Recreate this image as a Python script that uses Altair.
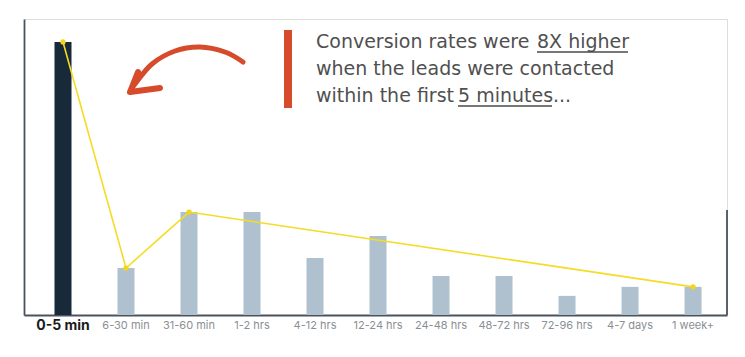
import altair as alt
import pandas as pd

# ---- data ----
categories = ["0-5 min", "6-30 min", "31-60 min", "1-2 hrs", "4-12 hrs", "12-24 hrs",
              "24-48 hrs", "48-72 hrs", "72-96 hrs", "4-7 days", "1 week+"]
values = [100, 17.2, 37.7, 37.7, 20.9, 28.9, 14.3, 14.3, 7.0, 10.3, 10.3]
highlight = [True] + [False] * 10
trend_categories = ["0-5 min", "6-30 min", "31-60 min", "1 week+"]
trend_values = [100, 17.2, 37.7, 10.3]

note_lines = ["Conversion rates were ", "when the leads were contacted", "within the first "]
note_underlined = ["8X higher", "5 minutes"]
note_tail = ["..."]

# annotation arrow path (plot pixels)
arrow_x = [219, 201, 176, 151, 128, 111, 106]
arrow_y = [43, 33, 28, 32, 45, 65, 73]
head_x = [114, 106, 136]
head_y = [53, 73, 69]

bars_df = pd.DataFrame({"cat": categories, "val": values, "hl": highlight})
trend_df = pd.DataFrame({"cat": trend_categories, "val": trend_values})

W, H = 703, 296
FONT = "Inter"
NOTE_FONT = "DejaVu Sans"

xscale = alt.Scale(type="band", domain=categories, paddingInner=0.73, paddingOuter=0.444, align=0.545)
yscale = alt.Scale(domain=[0, 108.4], nice=False, zero=True)

label_size = {"condition": {"test": "datum.value === '0-5 min'", "value": 14}, "value": 11}
label_weight = {"condition": {"test": "datum.value === '0-5 min'", "value": "bold"}, "value": "normal"}
label_color = {"condition": {"test": "datum.value === '0-5 min'", "value": "#1b1b1b"}, "value": "#8a8f94"}

bars = alt.Chart(bars_df).mark_bar().encode(
    x=alt.X("cat:N", scale=xscale, sort=categories, title=None,
            axis=alt.Axis(labelAngle=0, ticks=False, domainColor="#4a5260", domainWidth=1.8,
                          labelFont=FONT, labelFontSize=label_size, labelFontWeight=label_weight,
                          labelColor=label_color, labelPadding=10, labelBaseline="middle")),
    y=alt.Y("val:Q", scale=yscale, title=None,
            axis=alt.Axis(labels=False, ticks=False, grid=False, domainColor="#4a5260", domainWidth=1.8)),
    color=alt.Color("hl:N", scale=alt.Scale(domain=[True, False], range=["#182a3a", "#afc1ce"]), legend=None),
)

line = alt.Chart(trend_df).mark_line(color="#f5dc24", strokeWidth=1.6).encode(
    x=alt.X("cat:N", scale=xscale, sort=categories, axis=None),
    y=alt.Y("val:Q", scale=yscale, axis=None),
)
pts = alt.Chart(trend_df).mark_circle(color="#f5d51a", size=28, opacity=1).encode(
    x=alt.X("cat:N", scale=xscale, sort=categories, axis=None),
    y=alt.Y("val:Q", scale=yscale, axis=None),
)

right_rule = alt.Chart(pd.DataFrame({"a": [1]})).mark_rule(color="#4a5260", strokeWidth=1.8).encode(
    x=alt.value(W), y=alt.value(191), y2=alt.value(H)
)

red_bar = alt.Chart(pd.DataFrame({"a": [1]})).mark_rect(color="#d64b2c").encode(
    x=alt.value(260), x2=alt.value(268), y=alt.value(11), y2=alt.value(89)
)

txt_style = dict(font=NOTE_FONT, fontSize=19, color="#505050", align="left", baseline="alphabetic")
t1 = alt.Chart(pd.DataFrame({"t": [note_lines[0]]})).mark_text(**txt_style).encode(
    text="t:N", x=alt.value(292), y=alt.value(29))
t1u = alt.Chart(pd.DataFrame({"t": [note_underlined[0]]})).mark_text(**txt_style).encode(
    text="t:N", x=alt.value(513), y=alt.value(29))
t2 = alt.Chart(pd.DataFrame({"t": [note_lines[1]]})).mark_text(**txt_style).encode(
    text="t:N", x=alt.value(292), y=alt.value(56))
t3 = alt.Chart(pd.DataFrame({"t": [note_lines[2]]})).mark_text(**txt_style).encode(
    text="t:N", x=alt.value(292), y=alt.value(83))
t3u = alt.Chart(pd.DataFrame({"t": [note_underlined[1]]})).mark_text(**txt_style).encode(
    text="t:N", x=alt.value(434), y=alt.value(83))
t3t = alt.Chart(pd.DataFrame({"t": [note_tail[0]]})).mark_text(**txt_style).encode(
    text="t:N", x=alt.value(529), y=alt.value(83))

u1 = alt.Chart(pd.DataFrame({"a": [1]})).mark_rule(color="#4a4a4a", strokeWidth=1.5).encode(
    x=alt.value(513), x2=alt.value(604), y=alt.value(33))
u2 = alt.Chart(pd.DataFrame({"a": [1]})).mark_rule(color="#4a4a4a", strokeWidth=1.5).encode(
    x=alt.value(434), x2=alt.value(528), y=alt.value(87))

arrow_df = pd.DataFrame({"x": arrow_x, "y": arrow_y, "o": list(range(len(arrow_x)))})
head_df = pd.DataFrame({"x": head_x, "y": head_y, "o": list(range(len(head_x)))})
arrow = alt.Chart(arrow_df).mark_line(color="#d64b2c", strokeWidth=5, strokeCap="round",
                                      interpolate="cardinal").encode(
    x=alt.X("x:Q", scale=None, axis=None), y=alt.Y("y:Q", scale=None, axis=None), order="o:Q")
head = alt.Chart(head_df).mark_line(color="#d64b2c", strokeWidth=6, strokeCap="round",
                                    strokeJoin="round").encode(
    x=alt.X("x:Q", scale=None, axis=None), y=alt.Y("y:Q", scale=None, axis=None), order="o:Q")

chart = alt.layer(
    bars, line, pts, right_rule, red_bar, t1, t1u, t2, t3, t3u, t3t, u1, u2, arrow, head
).resolve_scale(x="independent", y="independent").properties(
    width=W, height=H,
    autosize=alt.AutoSizeParams(type="none"),
    padding={"left": 16, "top": 11, "right": 10, "bottom": 30},
).configure_view(stroke=None).configure(background="white")

chart.save("out.html", embed_options={"renderer": "svg", "actions": False})
